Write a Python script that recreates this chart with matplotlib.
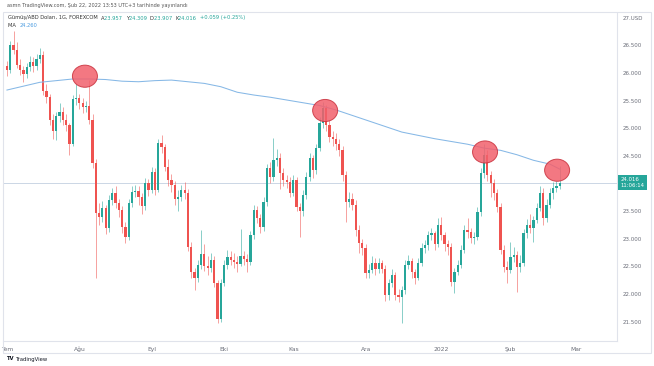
import matplotlib
matplotlib.use("Agg")
import matplotlib.pyplot as plt
from matplotlib.patches import Ellipse, Rectangle
import matplotlib.transforms as mtransforms
import pandas as pd

# daily XAG/USD candles, 1 Jul 2021 .. 22 Feb 2022 (business days)
first_open = 26.12
closes = [
    26.05, 26.50, 26.42, 26.15, 26.05, 25.98, 26.10, 26.20, 26.12, 26.25,
    26.33, 25.68, 25.56, 25.15, 24.95, 25.22, 25.30, 25.15, 25.05, 24.72,
    25.52, 25.55, 25.45, 25.38, 25.40, 25.15, 24.37, 23.47, 23.40, 23.55,
    23.20, 23.70, 23.83, 23.65, 23.52, 23.21, 23.03, 23.65, 23.85, 23.87,
    23.75, 23.60, 24.00, 23.88, 24.21, 23.88, 24.73, 24.66, 24.30, 24.06,
    23.97, 23.72, 23.75, 23.88, 23.83, 22.85, 22.40, 22.30, 22.53, 22.72,
    22.50, 22.47, 22.62, 22.20, 21.55, 22.20, 22.53, 22.67, 22.62, 22.58,
    22.55, 22.68, 22.63, 22.58, 23.07, 23.52, 23.38, 23.21, 23.66, 24.28,
    24.12, 24.42, 24.47, 24.19, 24.06, 24.03, 23.83, 24.06, 23.58, 23.50,
    23.79, 24.12, 24.46, 24.24, 24.64, 25.10, 25.37, 25.06, 24.84, 24.80,
    24.72, 24.60, 24.15, 23.66, 23.72, 23.62, 23.16, 22.92, 22.83, 22.38,
    22.44, 22.56, 22.45, 22.56, 22.46, 21.98, 22.20, 22.35, 21.98, 21.95,
    22.07, 22.53, 22.60, 22.40, 22.30, 22.56, 22.83, 22.88, 23.07, 23.10,
    22.90, 23.25, 23.07, 22.90, 22.85, 22.22, 22.40, 22.53, 22.80, 23.16,
    23.12, 23.02, 23.03, 23.49, 24.19, 24.52, 24.15, 24.01, 23.83, 23.58,
    22.80, 22.49, 22.44, 22.67, 22.70, 22.49, 22.56, 23.10, 23.25, 23.20,
    23.34, 23.56, 23.83, 23.38, 23.62, 23.83, 23.92, 23.957, 24.016,
]
highs = [
    26.22, 26.58, 26.75, 26.55, 26.25, 26.12, 26.18, 26.30, 26.28, 26.35,
    26.45, 26.40, 25.80, 25.62, 25.25, 25.30, 25.45, 25.38, 25.25, 25.10,
    25.60, 25.80, 25.62, 25.55, 25.50, 25.88, 25.25, 24.45, 23.65, 23.68,
    23.62, 23.80, 23.92, 23.95, 23.72, 23.60, 23.30, 23.72, 23.95, 23.98,
    23.95, 23.82, 24.10, 24.08, 24.30, 24.28, 24.80, 24.88, 24.72, 24.45,
    24.18, 24.05, 23.88, 23.98, 24.02, 23.90, 22.95, 22.48, 22.62, 23.16,
    22.90, 22.68, 22.75, 22.68, 22.25, 22.28, 22.62, 22.80, 22.78, 22.75,
    22.68, 23.18, 22.78, 22.72, 23.15, 23.62, 23.60, 23.45, 23.75, 24.35,
    24.38, 24.82, 24.62, 24.55, 24.28, 24.15, 24.12, 24.15, 24.12, 23.65,
    23.88, 24.20, 24.55, 24.52, 24.72, 25.20, 25.48, 25.42, 25.15, 24.95,
    24.92, 24.80, 24.68, 24.22, 23.85, 23.82, 23.70, 23.25, 23.00, 22.90,
    22.55, 22.68, 22.65, 22.66, 22.62, 22.52, 22.28, 22.45, 22.40, 22.10,
    22.15, 22.62, 22.70, 22.65, 22.45, 22.65, 22.92, 22.98, 23.15, 23.20,
    23.15, 23.38, 23.40, 23.12, 22.98, 22.92, 22.48, 22.62, 22.88, 23.25,
    23.38, 23.20, 23.12, 23.58, 24.28, 24.72, 24.60, 24.22, 24.08, 23.90,
    23.65, 22.88, 22.60, 22.95, 22.85, 22.78, 22.70, 23.18, 23.35, 23.45,
    23.42, 23.65, 23.95, 23.92, 23.72, 23.92, 24.02, 24.05, 24.309,
]
lows = [
    25.95, 26.00, 26.35, 26.08, 25.97, 25.84, 25.90, 26.03, 26.02, 26.05,
    26.18, 25.60, 25.45, 25.05, 24.80, 24.78, 25.12, 25.05, 24.95, 24.52,
    24.68, 25.42, 25.35, 25.28, 25.30, 25.08, 24.28, 22.30, 23.25, 23.30,
    23.08, 23.12, 23.62, 23.55, 23.40, 23.10, 22.92, 22.98, 23.58, 23.75,
    23.62, 23.45, 23.52, 23.78, 23.82, 23.80, 23.85, 24.55, 24.22, 23.95,
    23.85, 23.62, 23.50, 23.68, 23.72, 22.78, 22.30, 22.08, 22.22, 22.45,
    22.42, 22.35, 22.40, 22.12, 21.47, 21.50, 22.15, 22.45, 22.52, 22.48,
    22.40, 22.50, 22.52, 22.40, 22.52, 23.00, 23.28, 23.10, 23.15, 23.60,
    24.00, 24.05, 24.32, 23.90, 23.95, 23.92, 23.75, 23.78, 23.50, 23.03,
    23.42, 23.72, 24.05, 24.10, 24.18, 24.58, 25.00, 24.95, 24.75, 24.68,
    24.60, 24.50, 24.05, 23.30, 23.58, 23.52, 23.05, 22.75, 22.70, 22.30,
    22.30, 22.38, 22.35, 22.38, 22.38, 21.88, 21.90, 22.12, 21.90, 21.85,
    21.47, 22.00, 22.45, 22.30, 22.18, 22.25, 22.50, 22.75, 22.80, 22.98,
    22.80, 22.85, 22.98, 22.78, 22.70, 22.15, 22.02, 22.35, 22.48, 22.75,
    23.02, 22.92, 22.90, 22.98, 23.42, 24.10, 24.05, 23.75, 23.70, 23.48,
    22.72, 22.40, 22.20, 22.38, 22.58, 22.04, 22.40, 22.50, 23.02, 23.10,
    22.95, 23.28, 23.50, 23.25, 23.30, 23.55, 23.72, 23.85, 23.907,
]
opens = [first_open] + closes[:-1]

# moving average, read every 5th bar (last point = final bar)
ma_idx = list(range(0, 168, 5)) + [168]
ma_vals = [
    25.69, 25.76, 25.83, 25.86, 25.89, 25.89, 25.88, 25.85, 25.84, 25.86,
    25.87, 25.84, 25.81, 25.75, 25.65, 25.60, 25.56, 25.51, 25.46, 25.41,
    25.33, 25.23, 25.13, 25.03, 24.93, 24.87, 24.81, 24.76, 24.71, 24.64,
    24.60, 24.52, 24.42, 24.35, 24.26,
]

# highlighted touches (bar position, price)
mark_idx = [23.7, 96.7, 145.3, 167.2]
mark_price = [25.94, 25.32, 24.57, 24.24]

month_names = ["Tem", "Ağu", "Eyl", "Eki", "Kas", "Ara", "2022", "Şub", "Mar"]
# 24.000 sits under the last-price tag, so it is not labelled
y_ticks = [21.5, 22.0, 22.5, 23.0, 23.5, 24.5, 25.0, 25.5, 26.0, 26.5, 27.0]
y_labels = ["21.500", "22.000", "22.500", "23.000", "23.500", "24.500",
            "25.000", "25.500", "26.000", "26.500", "27.USD"]

UP = "#26a69a"
DOWN = "#ef5350"
GREY = "#6a6d78"

dates = pd.bdate_range("2021-07-01", "2022-03-31")
n = len(closes)
month_pos = []
for k, d in enumerate(dates):
    if k == 0 or d.month != dates[k - 1].month:
        month_pos.append(k)

fig = plt.figure(figsize=(6.54, 3.66), dpi=100)
W, H = 654, 366
ax = fig.add_axes([3 / W, 1 - 341 / H, 614 / W, 328 / H])
ax.set_xlim(-1.2, 185.4)
ax.set_ylim(21.152, 27.083)

for i in range(n):
    o, c, h, l = opens[i], closes[i], highs[i], lows[i]
    col = UP if c >= o else DOWN
    ax.vlines(i, l, h, color=col, lw=0.7, alpha=0.55, zorder=2)
    ax.bar(i, max(abs(c - o), 0.012), bottom=min(o, c), width=0.68,
           color=col, lw=0, zorder=3)

ax.plot(ma_idx, ma_vals, color="#86b8e6", lw=0.75, zorder=4)
ax.axhline(closes[-1], color="#c3d0e0", lw=0.6, zorder=1)

for xi, yp in zip(mark_idx, mark_price):
    ax.add_patch(Ellipse((xi, yp), 7.6, 0.40, facecolor="#f2606c", alpha=0.85,
                         edgecolor="#c9303c", lw=0.7, zorder=5))

for s in ["top", "left"]:
    ax.spines[s].set_visible(False)
ax.spines["right"].set_color("#e0e3eb")
ax.spines["bottom"].set_color("#e0e3eb")
ax.spines["right"].set_linewidth(0.8)
ax.spines["bottom"].set_linewidth(0.8)

ax.yaxis.tick_right()
ax.set_yticks(y_ticks)
ax.set_yticklabels(y_labels)
ax.tick_params(axis="y", length=0, labelsize=4.0, labelcolor=GREY, pad=4)
ax.set_xticks(month_pos)
ax.set_xticklabels(month_names[:len(month_pos)])
ax.tick_params(axis="x", length=0, labelsize=4.3, labelcolor=GREY, pad=4)

# last price tag
trans = mtransforms.blended_transform_factory(ax.transAxes, ax.transData)
ax.text(1.006, closes[-1], "24.016\n11:06:14", transform=trans, fontsize=3.9,
        color="white", va="center", ha="left", linespacing=1.15,
        bbox=dict(boxstyle="square,pad=0.45", fc=UP, ec="none"), zorder=6)

# outer frame
fig.add_artist(Rectangle((3 / W, 1 - 353 / H), 648 / W, 341 / H, fill=False,
                         ec="#e0e3eb", lw=0.8, transform=fig.transFigure))

fig.text(7 / W, 1 - 5 / H,
         "asmn TradingView.com, Şub 22, 2022 13:53 UTC+3 tarihinde yayınlandı",
         fontsize=3.6, color="#555555", va="center")

renderer = fig.canvas.get_renderer()


def text_run(x, y, parts, size):
    for txt, col, wt in parts:
        t = fig.text(x, y, txt, fontsize=size, color=col, va="center",
                     fontweight=wt)
        bb = t.get_window_extent(renderer)
        x += bb.width / W


text_run(8 / W, 1 - 18 / H, [
    ("Gümüş/ABD Doları, 1G, FOREXCOM  ", "#333333", "normal"),
    ("A", "#333333", "normal"), ("23.957  ", UP, "normal"),
    ("Y", "#333333", "normal"), ("24.309  ", UP, "normal"),
    ("D", "#333333", "normal"), ("23.907  ", UP, "normal"),
    ("K", "#333333", "normal"), ("24.016  ", UP, "normal"),
    ("+0.059 (+0.25%)", UP, "normal"),
], 3.7)
text_run(8 / W, 1 - 25.5 / H, [("MA  ", "#333333", "normal"),
                               ("24.260", "#4a9be0", "normal")], 3.7)

text_run(6 / W, 1 - 359 / H, [("TV ", "#131722", "bold"),
                              ("TradingView", "#131722", "normal")], 3.8)

fig.savefig("out.png", dpi=100)
